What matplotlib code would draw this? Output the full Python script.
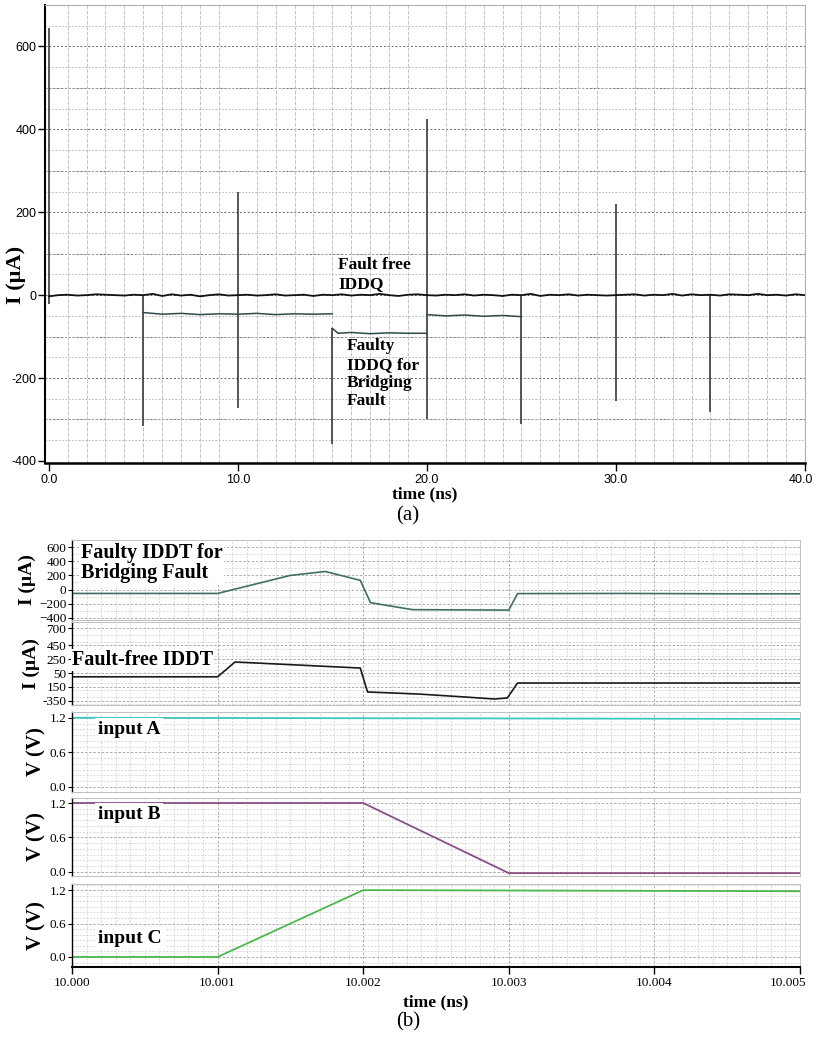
import numpy as np
import matplotlib.pyplot as plt
import matplotlib.transforms as mtransforms
from matplotlib.ticker import MultipleLocator, FixedLocator

plt.rcParams['font.family'] = ['Liberation Serif', 'DejaVu Serif']

# ---- (a) IDDQ over 0..40 ns, sampled every 0.5 ns ----
t_q = np.arange(0, 40.5, 0.5)
iddq_free = [-3, 0, 1, -1, 0, 2, 1, 0, -1, 1,
             0, 3, -2, 2, -1, 1, -3, 0, 2, -1,
             0, 1, -1, 0, 2, -1, 0, 1, -2, 1,
             0, 2, -1, 1, 0, 3, 0, -2, 1, 2,
             0, -1, 1, 0, 2, -1, 1, 0, -2, 1,
             0, 3, -2, 1, 0, 2, -1, 1, 0, -1,
             0, 1, 2, -1, 1, 0, 3, -1, 2, 0,
             1, -1, 2, 1, 0, 3, 0, 1, -1, 2, 0]

# faulty IDDQ segments (bridging fault), separate from the fault-free trace
seg1_t = [5.0, 6.0, 7.0, 8.0, 9.0, 10.0, 11.0, 12.0, 13.0, 14.0, 15.0]
seg1_v = [-42, -46, -44, -47, -45, -46, -44, -47, -45, -46, -45]
seg2_t = [15.0, 15.3, 16.0, 17.0, 18.0, 19.0, 20.0]
seg2_v = [-80, -92, -90, -93, -91, -92, -92]
seg3_t = [20.0, 21.0, 22.0, 23.0, 24.0, 25.0]
seg3_v = [-47, -50, -48, -51, -49, -52]

# switching spikes
spike_t = [0, 5, 10, 15, 20, 25, 30, 35]
spike_hi = [645, 0, 250, -80, 425, 0, 220, 0]
spike_lo = [-22, -315, -272, -360, -298, -312, -255, -283]

# ---- (b) IDDT and inputs over 10.000..10.005 ns ----
t_fault = [10.0, 10.001, 10.0015, 10.00174, 10.00198, 10.00205, 10.00217,
           10.00234, 10.0030, 10.00306, 10.0038, 10.0045, 10.005]
i_fault = [-55, -55, 200, 255, 130, -185, -227, -284, -290, -57, -55, -60, -60]

t_free = [10.0, 10.001, 10.00112, 10.00198, 10.00203, 10.00238, 10.0027,
          10.0029, 10.00299, 10.00306, 10.005]
i_free = [-5, -5, 210, 122, -225, -255, -298, -327, -312, -95, -95]

t_a = [10.0, 10.005]
v_a = [1.2, 1.18]
t_b = [10.0, 10.002, 10.003, 10.005]
v_b = [1.2, 1.2, -0.02, -0.02]
t_c = [10.0, 10.001, 10.002, 10.005]
v_c = [0.0, 0.0, 1.2, 1.18]

W, H = 815, 1038
fig = plt.figure(figsize=(W / 100, H / 100), dpi=100)


def box(l, t, r, b):
    return [l / W, 1 - b / H, (r - l) / W, (b - t) / H]


def nudge(label, dx_px):
    label.set_transform(label.get_transform() +
                        mtransforms.ScaledTranslation(dx_px / 100, 0, fig.dpi_scale_trans))


# ================= (a) =================
ax = fig.add_axes(box(45, 5, 805, 463))
ax.set_xlim(-0.2, 40)
ax.set_ylim(-405, 700)
ax.xaxis.set_minor_locator(MultipleLocator(1))
ax.set_yticks([-400, -200, 0, 200, 400, 600])
ax.yaxis.set_minor_locator(FixedLocator(np.arange(-400, 701, 50)))
ax.grid(which='minor', axis='x', color='#c4c4c4', lw=0.7, ls=(0, (4, 1.5)))
ax.grid(which='minor', axis='y', color='#b0b0b0', lw=0.6, ls=(0, (2, 2)))
ax.set_axisbelow(True)
for s in ['top', 'right']:
    ax.spines[s].set_color('#b0b0b0')
    ax.spines[s].set_linewidth(0.8)
ax.spines['left'].set_linewidth(1.5)
ax.spines['bottom'].set_linewidth(1.8)
ax.tick_params(axis='both', which='minor', length=0)
ax.tick_params(axis='y', which='major', length=5, width=1, pad=1)
ax.tick_params(axis='x', which='major', length=6, width=1, pad=2)
ax.set_xticks([0, 10, 20, 30, 40])
ax.set_xticklabels(['0.0', '10.0', '20.0', '30.0', '40.0'],
                   family=['Liberation Sans', 'DejaVu Sans'], fontsize=9)
ax.set_yticklabels(['-400', '-200', '0', '200', '400', '600'],
                   family=['Liberation Sans', 'DejaVu Sans'], fontsize=9)
nudge(ax.get_xticklabels()[-1], -4)
# darker dashed lines every 100 uA
for yv in np.arange(-300, 701, 100):
    ax.axhline(yv, color='#6a6a6a', lw=0.7, ls=(0, (2, 2)), zorder=0.5)

ax.vlines(spike_t, spike_lo, spike_hi, color='#3a3a3a', lw=1.2)
ax.plot(seg1_t, seg1_v, color='#2f4a4a', lw=1.1)
ax.plot(seg2_t, seg2_v, color='#2f4a4a', lw=1.1)
ax.plot(seg3_t, seg3_v, color='#2f4a4a', lw=1.1)
ax.plot(t_q, iddq_free, color='#111111', lw=1.3)

ax.text(15.3, 50, 'Fault free\nIDDQ', fontsize=12.5, fontweight='bold',
        va='center', ha='left', linespacing=1.3)
ax.text(15.75, -190, 'Faulty\nIDDQ for\nBridging\nFault', fontsize=12.5,
        fontweight='bold', va='center', ha='left', linespacing=1.2)
ax.set_ylabel('I (µA)', fontsize=16, fontweight='bold')
ax.yaxis.set_label_coords(-0.025, 0.41)
ax.set_xlabel('time (ns)', fontsize=12.5, fontweight='bold', labelpad=0)
fig.text(408 / W, 1 - 516 / H, '(a)', fontsize=15, ha='center', va='center')

# ================= (b) =================
rows = [(540, 620), (622, 705), (712, 792), (798, 876), (884, 967)]
axs = []
for t, b in rows:
    a = fig.add_axes(box(72, t, 800, b), sharex=axs[0] if axs else None)
    axs.append(a)

for a in axs:
    a.set_xlim(10.0, 10.005)
    a.xaxis.set_major_locator(MultipleLocator(0.001))
    a.xaxis.set_minor_locator(MultipleLocator(0.0001))
    a.grid(which='minor', color='#cccccc', lw=0.5, ls=(0, (3, 2)))
    a.grid(which='major', color='#a0a0a0', lw=0.6, ls=(0, (3, 2)))
    a.set_axisbelow(True)
    for s in ['top', 'right', 'bottom']:
        a.spines[s].set_color('#c0c0c0')
        a.spines[s].set_linewidth(0.7)
    a.spines['left'].set_linewidth(1.0)
    a.tick_params(axis='y', which='major', length=3, labelsize=9.5, pad=1)
    a.tick_params(which='minor', length=0)
    a.tick_params(axis='x', which='major', length=0, labelbottom=False)

# panel 1: faulty IDDT
a = axs[0]
a.set_ylim(-430, 700)
a.set_yticks([-400, -200, 0, 200, 400, 600])
a.yaxis.set_minor_locator(FixedLocator(np.arange(-400, 701, 100)))
a.plot(t_fault, i_fault, color='#3f6f66', lw=1.2)
a.text(10.00006, 370, 'Faulty IDDT for\nBridging Fault', fontsize=14.5,
       fontweight='bold', va='center', ha='left', linespacing=1.0,
       bbox=dict(facecolor='white', edgecolor='none', pad=1))
a.set_ylabel('I (µA)', fontsize=14, fontweight='bold', labelpad=2)

# panel 2: fault-free IDDT
a = axs[1]
a.set_ylim(-414, 790)
a.set_yticks([700, 450, 250, 50, -150, -350])
a.set_yticklabels(['700', '450', '250', '50', '150', '-350'])
a.yaxis.set_minor_locator(FixedLocator(np.arange(-400, 791, 100)))
a.plot(t_free, i_free, color='#1a1a1a', lw=1.2)
a.text(10.0000, 240, 'Fault-free IDDT', fontsize=14.5, fontweight='bold',
       va='center', ha='left',
       bbox=dict(facecolor='white', edgecolor='none', pad=1))
a.set_ylabel('I (µA)', fontsize=14, fontweight='bold', labelpad=2)

# panels 3-5: inputs
vlims = [(-0.087, 1.30), (-0.07, 1.287), (-0.18, 1.31)]
inputs = [(t_a, v_a, '#3cc8c0', 'input A', 1.0),
          (t_b, v_b, '#8a4f86', 'input B', 1.0),
          (t_c, v_c, '#4cb84c', 'input C', 0.34)]
for a, lim, (tx, vy, col, name, ypos) in zip(axs[2:], vlims, inputs):
    a.set_ylim(*lim)
    a.set_yticks([0.0, 0.6, 1.2])
    a.set_yticklabels(['0.0', '0.6', '1.2'])
    a.yaxis.set_minor_locator(MultipleLocator(0.1))
    a.plot(tx, vy, color=col, lw=1.3)
    a.text(10.00018, ypos, name, fontsize=14, fontweight='bold',
           va='center', ha='left',
           bbox=dict(facecolor='white', edgecolor='none', pad=2))
    a.set_ylabel('V (V)', fontsize=15, fontweight='bold', labelpad=2)

last = axs[-1]
last.spines['bottom'].set_color('black')
last.spines['bottom'].set_linewidth(1.5)
last.tick_params(axis='x', which='major', length=5, width=1, labelbottom=True,
                 labelsize=9.5, pad=2)
last.set_xticks([10.0, 10.001, 10.002, 10.003, 10.004, 10.005])
last.set_xticklabels(['10.000', '10.001', '10.002', '10.003', '10.004', '10.005'])
nudge(last.get_xticklabels()[-1], -12)
last.set_xlabel('time (ns)', fontsize=12.5, fontweight='bold', labelpad=4)
fig.align_ylabels(axs)
fig.text(408 / W, 1 - 1022 / H, '(b)', fontsize=15, ha='center', va='center')

fig.savefig('out.png', dpi=100, facecolor='white')
